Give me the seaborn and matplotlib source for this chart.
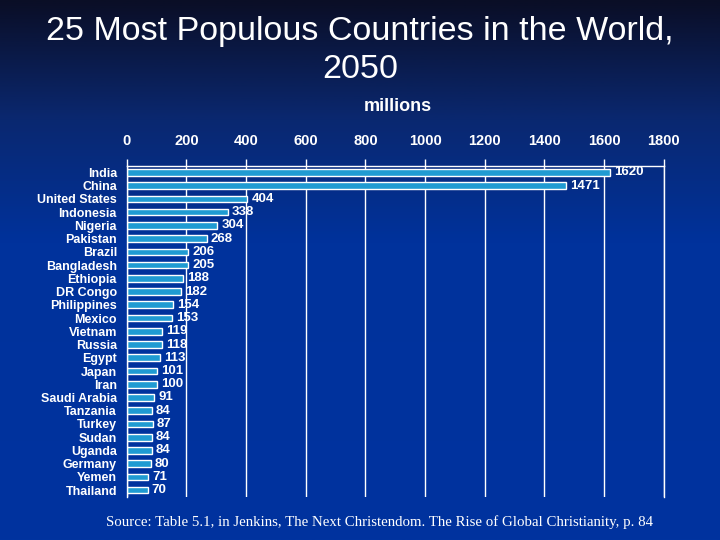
import numpy as np
import pandas as pd
import seaborn as sns
import matplotlib.pyplot as plt
from matplotlib.colors import LinearSegmentedColormap

# --- Data (millions, 2050 projection) ---
countries = ["India", "China", "United States", "Indonesia", "Nigeria", "Pakistan",
             "Brazil", "Bangladesh", "Ethiopia", "DR Congo", "Philippines", "Mexico",
             "Vietnam", "Russia", "Egypt", "Japan", "Iran", "Saudi Arabia", "Tanzania",
             "Turkey", "Sudan", "Uganda", "Germany", "Yemen", "Thailand"]
population = [1620, 1471, 404, 338, 304, 268, 206, 205, 188, 182, 154, 153,
              119, 118, 113, 101, 100, 91, 84, 87, 84, 84, 80, 71, 70]
x_ticks = [0, 200, 400, 600, 800, 1000, 1200, 1400, 1600, 1800]

df = pd.DataFrame({"country": countries, "population": population})

sns.set_theme(style="white")
plt.rcParams['font.family'] = ['Liberation Sans', 'DejaVu Sans']

fig = plt.figure(figsize=(7.2, 5.4), dpi=100)

# slide-style dark blue gradient background
bg = fig.add_axes([0, 0, 1, 1], zorder=-10)
cmap = LinearSegmentedColormap.from_list(
    "slide", [(0.0, "#0a0e26"), (0.22, "#0a2870"), (0.45, "#00329c"), (1.0, "#00339f")])
bg.imshow(np.linspace(0, 1, 256).reshape(-1, 1), aspect="auto", cmap=cmap,
          extent=[0, 1, 0, 1], origin="upper")
bg.axis("off")

ax = fig.add_axes([0.176, 0.080, 0.746, 0.613])
ax.set_facecolor("none")

sns.barplot(data=df, x="population", y="country", orient="h", ax=ax,
            color="#1f9bd2", saturation=1, edgecolor="white", linewidth=1.0,
            width=0.5)

ax.set_xlim(0, 1800)
ax.set_ylim(24.5, -0.45)
ax.set_xticks(x_ticks)
ax.xaxis.tick_top()
ax.xaxis.set_label_position("top")
ax.tick_params(axis="x", colors="white", direction="out", length=5, width=1,
               labelsize=10.5, pad=8)
for lbl in ax.get_xticklabels():
    lbl.set_fontweight("bold")
ax.grid(axis="x", color="white", linewidth=1)
ax.set_axisbelow(True)

# tick marks between categories on the left
ax.set_yticks(np.arange(-0.5, 25, 1), minor=True)
ax.tick_params(axis="y", which="minor", colors="white", direction="out", length=4, width=1)
ax.tick_params(axis="y", which="major", length=0, labelsize=9, labelcolor="white", pad=7)
for lbl in ax.get_yticklabels():
    lbl.set_fontweight("bold")

ax.spines["bottom"].set_visible(False)
for side in ["left", "top", "right"]:
    ax.spines[side].set_color("white")
    ax.spines[side].set_linewidth(1)

ax.set_xlabel("")
ax.set_ylabel("")

ax.bar_label(ax.containers[0], labels=[str(v) for v in population], padding=3,
             color="white", fontsize=9.5, fontweight="bold")

fig.text(0.5, 0.906, "25 Most Populous Countries in the World,\n2050", ha="center", va="center",
         color="white", fontsize=24.5, linespacing=1.3)
fig.text(0.552, 0.803, "millions", ha="center", va="center", color="white",
         fontsize=13, fontweight="bold")
fig.text(0.147, 0.033, "Source: Table 5.1, in Jenkins, The Next Christendom. The Rise of Global Christianity, p. 84",
         ha="left", va="center", color="white", fontsize=10.7, family=["Liberation Serif", "DejaVu Serif"])

plt.savefig("out.png", dpi=100)
